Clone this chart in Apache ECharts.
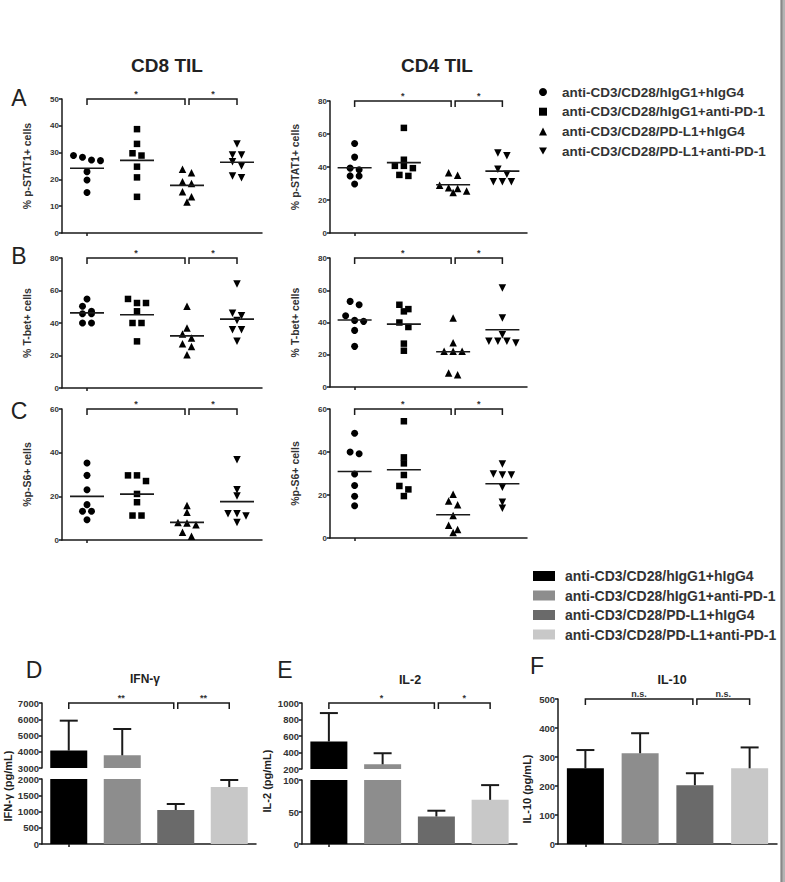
<!DOCTYPE html>
<html>
<head>
<meta charset="utf-8">
<title>CD8 / CD4 TIL</title>
<script src="https://cdn.jsdelivr.net/npm/echarts@6/dist/echarts.min.js"></script>
<style>html,body{margin:0;padding:0;background:#fff}#main{width:785px;height:882px}</style>
</head>
<body>
<div id="main"></div>
<script>
var groups = ['anti-CD3/CD28/hIgG1+hIgG4', 'anti-CD3/CD28/hIgG1+anti-PD-1', 'anti-CD3/CD28/PD-L1+hIgG4', 'anti-CD3/CD28/PD-L1+anti-PD-1'];

// % positive cells, 7 tumours per group
var cd8Stat1 = [[28.9, 28.25, 27.25, 27, 22.9, 19.75, 15.1], [38.75, 33.25, 29.75, 28.9, 24.75, 20.75, 13.5], [23.75, 22.5, 19.1, 18.5, 15.4, 13.5, 11.6], [33.25, 29.1, 29.1, 26.6, 25, 21.25, 20.6]];
var cd4Stat1 = [[54.2, 46, 39.3, 38.3, 34.6, 34.6, 29.7], [63.7, 44.4, 40.7, 40.7, 39.3, 35.2, 34.6], [36.5, 35, 29, 27.5, 27, 25.5, 24.5], [48.5, 46.8, 38.7, 35.6, 31, 31, 31]];
var cd8Tbet = [[54.8, 50.3, 47.2, 45.7, 45.7, 40, 40], [54.8, 52.3, 52.3, 47.2, 40, 40, 28.7], [50.3, 36.9, 33.2, 30.8, 27.3, 25.6, 20.5], [64, 46, 44.5, 41.6, 35.9, 35.9, 28.7]];
var cd4Tbet = [[53.1, 51, 44.2, 41.3, 40.7, 35.1, 25.2], [51, 48.3, 46.9, 40, 37.2, 26.9, 22.5], [42.8, 27.5, 22.1, 22.1, 22.1, 8.7, 7.6], [61.4, 42.8, 32.4, 28.3, 28.3, 28.3, 27.3]];
var cd8S6 = [[35.3, 29.6, 23, 16.2, 13.2, 13.2, 9.3], [29.6, 29.6, 27, 21.1, 17.3, 11.2, 11.2], [15.8, 12.7, 8, 7.8, 7, 3.5, 1.7], [36.8, 23, 20.2, 12, 12, 11, 8]];
var cd4S6 = [[48.7, 40, 39.2, 29.8, 24.4, 19.4, 15], [54.3, 37.5, 34.7, 29.3, 24.2, 22.6, 19.5], [20.3, 17.2, 15.5, 10.5, 5.9, 3.9, 2.6], [34.4, 29.8, 29.3, 29.3, 23.6, 16.6, 13.8]];

// cytokines (pg/mL), mean and upper error
var ifnMean = [4070, 3780, 1046, 1754];
var ifnErr = [1843, 1620, 184, 216];
var il2Mean = [533, 257, 43, 69];
var il2Err = [345, 134, 9, 23];
var il10Mean = [261, 313, 203, 261];
var il10Err = [63, 69, 41, 72];

// comparisons drawn as brackets
var sigPairs = [[0, 2], [2, 3]];
var sigScatter = ['*', '*'];
var sigIfn = ['**', '**'];
var sigIl2 = ['*', '*'];
var sigIl10 = ['n.s.', 'n.s.'];

var FONT = '"Liberation Sans", Arial, Helvetica, sans-serif';
var INK = '#1a1a1a';
var symbols = ['circle', 'rect', 'triangle', 'path://M0,0L10,0L5,8.7Z'];
var symbolSizes = [7, 6.5, 7.5, 7.5];
var barColors = ['#000000', '#8d8d8d', '#6a6a6a', '#c8c8c8'];

var myChart = echarts.init(document.getElementById('main'), null, {renderer: 'svg'});

var panels = [
    {values: cd8Stat1, max: 50, step: 10, name: '% p-STAT1+ cells', left: 62, top: 99, width: 200, height: 134},
    {values: cd4Stat1, max: 80, step: 20, name: '% p-STAT1+ cells', left: 330, top: 101, width: 197, height: 132},
    {values: cd8Tbet, max: 80, step: 20, name: '% T-bet+ cells', left: 62, top: 258, width: 200, height: 130},
    {values: cd4Tbet, max: 80, step: 20, name: '% T-bet+ cells', left: 330, top: 258, width: 197, height: 129},
    {values: cd8S6, max: 60, step: 20, name: '%p-S6+ cells', left: 62, top: 409, width: 200, height: 131},
    {values: cd4S6, max: 60, step: 20, name: '%p-S6+ cells', left: 330, top: 409, width: 197, height: 129}
];

// bar panels: D and E have a broken axis (two grids)
var barGrids = [
    {means: ifnMean, errs: ifnErr, min: 3000, max: 7000, step: 1000, left: 42, top: 703, width: 214, height: 65, base: false, sig: sigIfn},
    {means: ifnMean, errs: ifnErr, min: 0, max: 2000, step: 500, left: 42, top: 779, width: 214, height: 65, base: true},
    {means: il2Mean, errs: il2Err, min: 200, max: 1000, step: 200, left: 302, top: 703, width: 215, height: 66, base: false, sig: sigIl2},
    {means: il2Mean, errs: il2Err, min: 0, max: 100, step: 50, left: 302, top: 780, width: 215, height: 64, base: true},
    {means: il10Mean, errs: il10Err, min: 0, max: 500, step: 100, left: 558, top: 699, width: 219, height: 145, base: true, sig: sigIl10}
];

function mean(a) {
    return a.reduce(function (s, v) { return s + v; }, 0) / a.length;
}

// GraphPad-like spreading of points that sit at nearly the same height
function swarm(vals, pxPerUnit) {
    var order = vals.map(function (v, i) { return i; }).sort(function (a, b) { return vals[b] - vals[a]; });
    var offs = [], row = [];
    function flush() {
        row.forEach(function (idx, k) { offs[idx] = (k - (row.length - 1) / 2) * 9; });
        row = [];
    }
    order.forEach(function (idx) {
        if (row.length && (vals[row[0]] - vals[idx]) * pxPerUnit >= 6) flush();
        row.push(idx);
    });
    flush();
    return offs;
}

function bracketSeries(axisIndex, level, labels) {
    return {
        type: 'custom', xAxisIndex: axisIndex, yAxisIndex: axisIndex, silent: true, z: 6,
        itemStyle: {color: INK},
        data: sigPairs.map(function (p, k) { return [p[0], p[1], level, k]; }),
        renderItem: function (params, api) {
            var k = api.value(3);
            var a = api.coord([api.value(0), api.value(2)]);
            var b = api.coord([api.value(1), api.value(2)]);
            var x1 = a[0] + (k > 0 ? 2 : 0), x2 = b[0] - (k === 0 ? 2 : 0), y = a[1];
            return {
                type: 'group',
                children: [
                    {type: 'polyline', shape: {points: [[x1, y + 6], [x1, y], [x2, y], [x2, y + 6]]},
                        style: {stroke: INK, lineWidth: 1.5, fill: null}},
                    {type: 'text', style: {text: labels[k], x: (x1 + x2) / 2, y: y - 1,
                        align: 'center', verticalAlign: 'bottom', textAlign: 'center', textVerticalAlign: 'bottom',
                        font: 'bold 9px ' + FONT, fill: '#333'}}
                ]
            };
        }
    };
}

function errSeries(axisIndex, g) {
    return {
        type: 'custom', xAxisIndex: axisIndex, yAxisIndex: axisIndex, silent: true, z: 5,
        itemStyle: {color: INK},
        data: g.means.map(function (m, i) { return [i, m, m + g.errs[i]]; }),
        renderItem: function (params, api) {
            var i = api.value(0), top = api.value(2), base = Math.max(api.value(1), g.min);
            if (top <= g.min || base >= g.max) return null;
            var p0 = api.coord([i, base]), p1 = api.coord([i, Math.min(top, g.max)]);
            var st = {stroke: INK, lineWidth: 2};
            var kids = [{type: 'line', shape: {x1: p0[0], y1: p0[1], x2: p1[0], y2: p1[1]}, style: st}];
            if (top <= g.max) kids.push({type: 'line', shape: {x1: p1[0] - 9, y1: p1[1], x2: p1[0] + 9, y2: p1[1]}, style: st});
            return {type: 'group', children: kids};
        }
    };
}

var grid = [], xAxis = [], yAxis = [], series = [];

panels.forEach(function (p, pi) {
    grid.push({left: p.left, top: p.top, width: p.width, height: p.height});
    xAxis.push({
        gridIndex: pi, type: 'category', data: groups,
        axisLine: {show: true, lineStyle: {color: INK, width: 1.5}},
        axisTick: {show: true, alignWithLabel: true, length: 3, lineStyle: {color: INK, width: 1.5}},
        axisLabel: {show: false}, splitLine: {show: false}
    });
    yAxis.push({
        gridIndex: pi, type: 'value', min: 0, max: p.max, interval: p.step,
        name: p.name, nameLocation: 'middle', nameGap: 30,
        nameTextStyle: {fontSize: 10.5, fontWeight: 'bold', color: '#333', fontFamily: FONT},
        axisLine: {show: true, lineStyle: {color: INK, width: 1.5}},
        axisTick: {show: true, length: 3, lineStyle: {color: INK, width: 1.5}},
        axisLabel: {fontSize: 8, fontWeight: 'bold', color: '#333', margin: 3, fontFamily: FONT},
        splitLine: {show: false}
    });
    var pxPerUnit = p.height / p.max;
    p.values.forEach(function (vals, g) {
        var offs = swarm(vals, pxPerUnit);
        series.push({
            type: 'scatter', name: groups[g], xAxisIndex: pi, yAxisIndex: pi, silent: true, z: 3,
            symbol: symbols[g], symbolSize: symbolSizes[g], itemStyle: {color: '#000', opacity: 1},
            data: vals.map(function (v, i) { return {value: [g, v], symbolOffset: [offs[i], 0]}; })
        });
    });
    series.push({
        type: 'scatter', name: 'mean', xAxisIndex: pi, yAxisIndex: pi, silent: true, z: 4,
        symbol: 'rect', symbolSize: [34, 1.6], itemStyle: {color: INK, opacity: 1},
        data: p.values.map(function (vals, g) { return [g, mean(vals)]; })
    });
    series.push(bracketSeries(pi, p.max, sigScatter));
});

barGrids.forEach(function (g, j) {
    var ai = panels.length + j;
    grid.push({left: g.left, top: g.top, width: g.width, height: g.height});
    xAxis.push({
        gridIndex: ai, type: 'category', data: groups,
        axisLine: {show: g.base, lineStyle: {color: INK, width: 1.5}},
        axisTick: {show: g.base, alignWithLabel: true, length: 3, lineStyle: {color: INK, width: 1.5}},
        axisLabel: {show: false}, splitLine: {show: false}
    });
    yAxis.push({
        gridIndex: ai, type: 'value', min: g.min, max: g.max, interval: g.step,
        axisLine: {show: true, lineStyle: {color: INK, width: 1.5}},
        axisTick: {show: true, length: 3, lineStyle: {color: INK, width: 1.5}},
        axisLabel: {fontSize: 9.5, fontWeight: 'bold', color: '#333', margin: 3, fontFamily: FONT,
            formatter: function (v) { return String(v); }},
        splitLine: {show: false}
    });
    series.push({
        type: 'bar', name: 'bars', xAxisIndex: ai, yAxisIndex: ai, silent: true, barWidth: 37, clip: true, z: 2,
        data: g.means.map(function (m, i) { return {value: m, itemStyle: {color: barColors[i], opacity: 1}}; })
    });
    series.push(errSeries(ai, g));
    if (g.sig) series.push(bracketSeries(ai, g.max, g.sig));
});

function txt(text, x, y, font, extra) {
    var el = {type: 'text', x: x, y: y, silent: true,
        style: {text: text, font: font, fill: '#222', align: 'center', verticalAlign: 'middle',
            textAlign: 'center', textVerticalAlign: 'middle'}};
    if (extra) for (var k in extra) el[k] = extra[k];
    return el;
}

var option = {
    animation: false,
    backgroundColor: '#fff',
    grid: grid,
    xAxis: xAxis,
    yAxis: yAxis,
    series: series,
    legend: [
        {
            data: groups.map(function (n, i) { return {name: n, icon: symbols[i], itemStyle: {color: '#000', opacity: 1}}; }),
            orient: 'vertical', left: 534, top: 80, itemWidth: 8, itemHeight: 8, itemGap: 5.7,
            selectedMode: false,
            textStyle: {fontSize: 13.5, fontWeight: 'bold', color: '#333', fontFamily: FONT, padding: [0, 0, 0, 10]}
        },
        {
            data: groups.map(function (n, i) { return {name: n, icon: 'rect', itemStyle: {color: barColors[i], opacity: 1}}; }),
            orient: 'vertical', left: 528, top: 564, itemWidth: 22, itemHeight: 10, itemGap: 5.5,
            selectedMode: false,
            textStyle: {fontSize: 14, fontWeight: 'bold', color: '#333', fontFamily: FONT, padding: [0, 0, 0, 5]}
        }
    ],
    graphic: [
        txt('CD8 TIL', 167, 65, 'bold 19px ' + FONT),
        txt('CD4 TIL', 437, 65, 'bold 19px ' + FONT),
        txt('A', 19, 98, '23px ' + FONT),
        txt('B', 19, 256, '23px ' + FONT),
        txt('C', 19, 411, '23px ' + FONT),
        txt('D', 34, 670, '23px ' + FONT),
        txt('E', 285, 670, '23px ' + FONT),
        txt('F', 537, 666, '23px ' + FONT),
        txt('IFN-γ', 145, 679, 'bold 12px ' + FONT),
        txt('IL-2', 410, 680, 'bold 12.5px ' + FONT),
        txt('IL-10', 672, 680, 'bold 12.5px ' + FONT),
        txt('IFN-γ (pg/mL)', 8, 786, 'bold 11px ' + FONT, {rotation: Math.PI / 2}),
        txt('IL-2 (pg/mL)', 267, 781, 'bold 11px ' + FONT, {rotation: Math.PI / 2}),
        txt('IL-10 (pg/mL)', 527, 789, 'bold 11px ' + FONT, {rotation: Math.PI / 2}),
        {type: 'rect', silent: true, shape: {x: 780, y: 0, width: 5, height: 882}, style: {fill: '#b4b4b4'}},
        {type: 'rect', silent: true, shape: {x: 781, y: 0, width: 1.5, height: 882}, style: {fill: '#888'}}
    ]
};

myChart.setOption(option);
</script>
</body>
</html>
